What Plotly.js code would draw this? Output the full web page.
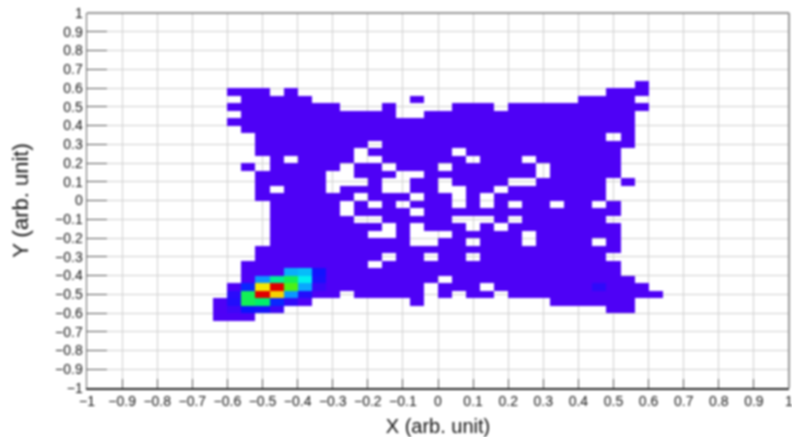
<!DOCTYPE html>
<html><head><meta charset="utf-8">
<script src="https://cdn.plot.ly/plotly-3.0.1.min.js"></script>
<style>html,body{margin:0;padding:0;background:#fff}#chart{filter:blur(0.8px)}</style></head>
<body><div id="chart" style="width:792px;height:437px"></div>
<script>
const binWidth = 0.04;
const colFirst = -25, colLast = 24;
const rowFirst = -25, rowLast = 24;
// occupied bins per row: row index -> [from,to, from,to ...] in bin indices (bin k covers k*0.04 .. (k+1)*0.04)
const occupiedRuns = {
  "15":[14,14],
  "14":[-15,-13,-11,-11,12,14],
  "13":[-14,-10,-2,-2,10,13],
  "12":[-15,-8,-4,-4,1,3,5,14],
  "11":[-14,-4,-1,13],
  "10":[-15,13],
  "9":[-14,13],
  "8":[-13,11,13,13],
  "7":[-13,-6,-4,13],
  "6":[-13,-7,-5,0,2,12],
  "5":[-12,-12,-10,-7,-4,1,3,5,7,12],
  "4":[-14,-14,-12,-8,-6,-5,-3,-1,1,6,8,12],
  "3":[-13,-9,-6,-4,-1,6,8,12],
  "2":[-13,-9,-5,-5,-2,-1,1,4,7,11,13,13],
  "1":[-13,-13,-11,-9,-7,-5,-2,-1,2,3,5,11],
  "0":[-13,-7,-5,-3,-1,0,2,2,4,11],
  "-1":[-12,-8,-6,-6,-4,-4,-2,0,2,2,4,4,6,7,9,10,12,12],
  "-2":[-12,-8,-6,-3,-1,12],
  "-3":[-12,-7,-4,0,4,4,6,11],
  "-4":[-12,-5,-3,-3,-1,1,3,3,5,12],
  "-5":[-12,-6,-3,-3,1,5,7,12],
  "-6":[-12,-3,0,1,3,5,7,10,12,12],
  "-7":[-13,12],
  "-8":[-13,-5,-3,-2,0,1,3,11],
  "-9":[-14,-6,-4,12],
  "-10":[-14,12],
  "-11":[-14,-1,1,13],
  "-12":[-15,-2,0,2,4,14],
  "-13":[-15,-8,-6,-2,0,0,2,3,5,15],
  "-14":[-16,-10,-2,-2,8,13],
  "-15":[-16,-12,12,13],
  "-16":[-16,-14]
};
const baseCount = 1;
const hotCol =   [-11,-10,-9, -13,-12,-11,-10,-9, -14,-13,-12,-11,-10,-9, -15,-14,-13,-12,-11,-10, -15,-14,-13,-12,-11, -15,-14,-13,-12, 11];
const hotRow =   [-10,-10,-10, -11,-11,-11,-11,-11, -12,-12,-12,-12,-12,-12, -13,-13,-13,-13,-13,-13, -14,-14,-14,-14,-14, -15,-15,-15,-15, -12];
const hotCount = [36,38,16, 33,54,60,45,14, 20,80,100,66,35,6, 10,60,100,82,33,12, 12,60,58,20,8, 5,18,15,5, 9];
const tickVals = [-1,-0.9,-0.8,-0.7,-0.6,-0.5,-0.4,-0.3,-0.2,-0.1,0,0.1,0.2,0.3,0.4,0.5,0.6,0.7,0.8,0.9,1];

const xs=[], ys=[], z=[];
for(let c=colFirst;c<=colLast;c++) xs.push((c+0.5)*binWidth);
for(let r=rowFirst;r<=rowLast;r++){
  ys.push((r+0.5)*binWidth);
  const row=new Array(colLast-colFirst+1).fill(null);
  const runs=occupiedRuns[String(r)]||[];
  for(let i=0;i<runs.length;i+=2) for(let c=runs[i];c<=runs[i+1];c++) row[c-colFirst]=baseCount;
  z.push(row);
}
hotCol.forEach((c,i)=>{ z[hotRow[i]-rowFirst][c-colFirst]=hotCount[i]; });

const fontFam='"Liberation Sans",Arial,sans-serif';
const axisBase={range:[-1,1],tickmode:'array',tickvals:tickVals,ticklabeloverflow:'allow',
  ticks:'inside',tickcolor:'#555',tickwidth:1,showgrid:true,gridcolor:'#d0d0d0',gridwidth:1,
  zeroline:false,showline:true,mirror:false,
  tickfont:{family:fontFam,size:14,color:'#111'}};
Plotly.newPlot('chart',[{type:'heatmap',x:xs,y:ys,z:z,zmin:0,zmax:100,showscale:false,
  zsmooth:false,hoverongaps:false,
  colorscale:[[0,'#5200f5'],[0.18,'#0a14ff'],[0.34,'#0aa0ff'],[0.45,'#00f0f0'],[0.58,'#00f06a'],[0.68,'#60f000'],[0.8,'#f5e800'],[0.9,'#ff7a00'],[1,'#e00000']]}],
 {width:792,height:437,margin:{l:87,r:3,t:13,b:49},paper_bgcolor:'#fff',plot_bgcolor:'#fff',
  xaxis:Object.assign({},axisBase,{ticklen:9,linecolor:'#222',linewidth:1.5,title:{text:'X (arb. unit)',font:{family:fontFam,size:20,color:'#111'},standoff:10}}),
  yaxis:Object.assign({},axisBase,{ticklen:20,linecolor:'#666',linewidth:1.5,title:{text:'Y (arb. unit)',font:{family:fontFam,size:22,color:'#111'},standoff:20}}),
  shapes:[
    {type:'line',xref:'paper',yref:'paper',x0:0,x1:1,y0:1,y1:1,line:{color:'#777',width:1.5}},
    {type:'line',xref:'paper',yref:'paper',x0:1,x1:1,y0:0,y1:1,line:{color:'#777',width:1.5}}
  ],
  showlegend:false},{displayModeBar:false,staticPlot:true});
</script></body></html>
